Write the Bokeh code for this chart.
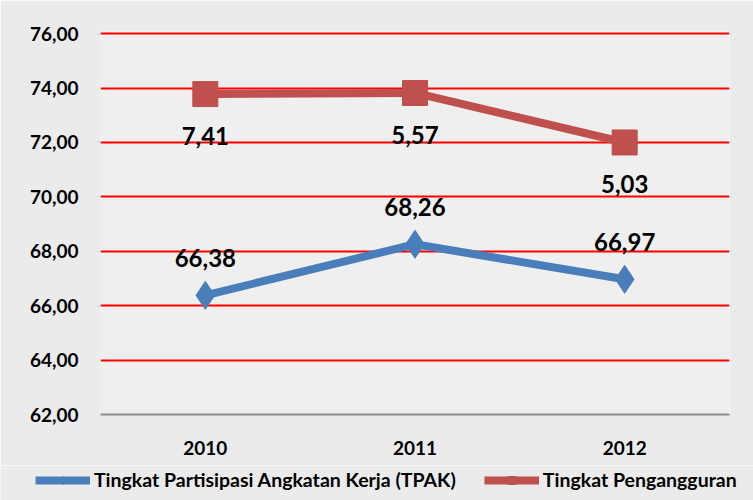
from bokeh.plotting import figure
from bokeh.layouts import column
from bokeh.models import ColumnDataSource, Legend, LegendItem, FixedTicker
from bokeh.core.properties import value
from bokeh.embed import file_html
from bokeh.resources import INLINE

years = ["2010", "2011", "2012"]
tpak = [66.38, 68.26, 66.97]
tpak_labels = ["66,38", "68,26", "66,97"]
pengangguran_pos = [73.78, 73.82, 72.00]
pengangguran_labels = ["7,41", "5,57", "5,03"]
y_ticks = [62, 64, 66, 68, 70, 72, 74, 76]

FONT = "Lato"
BLUE = "#4a7ebb"
RED = "#c0504d"
BG = "#ebebeb"

p = figure(x_range=years, y_range=(62, 76.08), width=753, height=465,
           output_backend="svg", toolbar_location=None,
           min_border_left=100, min_border_right=24, min_border_top=31, min_border_bottom=51)
p.background_fill_color = "#efefef"
p.border_fill_color = BG
p.outline_line_color = None

p.yaxis.ticker = FixedTicker(ticks=y_ticks)
p.yaxis.major_label_overrides = {t: f"{t},00" for t in y_ticks}
p.yaxis.axis_line_color = None
p.yaxis.major_tick_line_color = None
p.yaxis.minor_tick_line_color = None
p.yaxis.major_tick_out = 0
p.yaxis.major_label_text_font = FONT
p.yaxis.major_label_text_font_style = "bold"
p.yaxis.major_label_text_font_size = "19px"
p.yaxis.major_label_text_color = "black"
p.yaxis.major_label_standoff = 22

p.xaxis.axis_line_color = "#8c8c8c"
p.xaxis.axis_line_width = 2
p.xaxis.major_tick_line_color = None
p.xaxis.minor_tick_line_color = None
p.xaxis.major_tick_out = 0
p.xaxis.major_label_text_font = FONT
p.xaxis.major_label_text_font_style = "bold"
p.xaxis.major_label_text_font_size = "19px"
p.xaxis.major_label_text_color = "black"
p.xaxis.major_label_standoff = 26

p.xgrid.grid_line_color = None
p.ygrid.grid_line_color = "#ff0000"
p.ygrid.grid_line_width = 2

src_b = ColumnDataSource(dict(x=years, y=tpak, lab=tpak_labels))
src_r = ColumnDataSource(dict(x=years, y=pengangguran_pos, lab=pengangguran_labels))

p.line("x", "y", source=src_b, line_color=BLUE, line_width=8)
p.scatter("x", "y", source=src_b, marker="diamond", size=28, fill_color=BLUE, line_color=BLUE)
p.line("x", "y", source=src_r, line_color=RED, line_width=8)
p.scatter("x", "y", source=src_r, marker="square", size=25, fill_color=RED, line_color=RED)

p.text("x", "y", text="lab", source=src_b, y_offset=-37, text_align="center", text_baseline="middle",
       text_font=value(FONT), text_font_style="bold", text_font_size="24px", text_color="black")
p.text("x", "y", text="lab", source=src_r, y_offset=42, text_align="center", text_baseline="middle",
       text_font=value(FONT), text_font_style="bold", text_font_size="24px", text_color="black")

# legend strip below the chart (same series, drawn out of view so only the legend shows)
lg = figure(x_range=years, y_range=(0, 1), width=753, height=35,
            output_backend="svg", toolbar_location=None,
            min_border_left=0, min_border_right=0, min_border_top=0, min_border_bottom=0)
lg.xaxis.visible = False
lg.yaxis.visible = False
lg.grid.visible = False
lg.outline_line_color = None
lg.background_fill_color = BG
lg.border_fill_color = BG

unaligned = True
try:
    lg.frame_align = False
except Exception:
    unaligned = False

lb = lg.line("x", "y", source=src_b, line_color=BLUE, line_width=8)
mb = lg.scatter("x", "y", source=src_b, marker="diamond", size=18, fill_color=BLUE, line_color=BLUE)
lr = lg.line("x", "y", source=src_r, line_color=RED, line_width=8)
mr = lg.scatter("x", "y", source=src_r, marker="square", size=16, fill_color=RED, line_color=RED)

legend = Legend(items=[
    LegendItem(label="Tingkat Partisipasi Angkatan Kerja (TPAK)", renderers=[lb, mb]),
    LegendItem(label="Tingkat Pengangguran", renderers=[lr, mr]),
], orientation="horizontal")
legend.label_text_font = FONT
legend.label_text_font_style = "bold"
legend.label_text_color = "black"
legend.background_fill_alpha = 0
legend.border_line_color = None
legend.label_standoff = 4
legend.margin = 0
legend.padding = 0
if unaligned:
    legend.location = (35, 9)
    legend.label_text_font_size = "19.5px"
    legend.glyph_width = 55
    legend.spacing = 28
else:
    legend.location = (8, 9)
    legend.label_text_font_size = "17px"
    legend.glyph_width = 45
    legend.spacing = 20
lg.add_layout(legend, "center")

layout = column(p, lg, spacing=0)
open("out.html", "w").write(file_html(layout, INLINE))
